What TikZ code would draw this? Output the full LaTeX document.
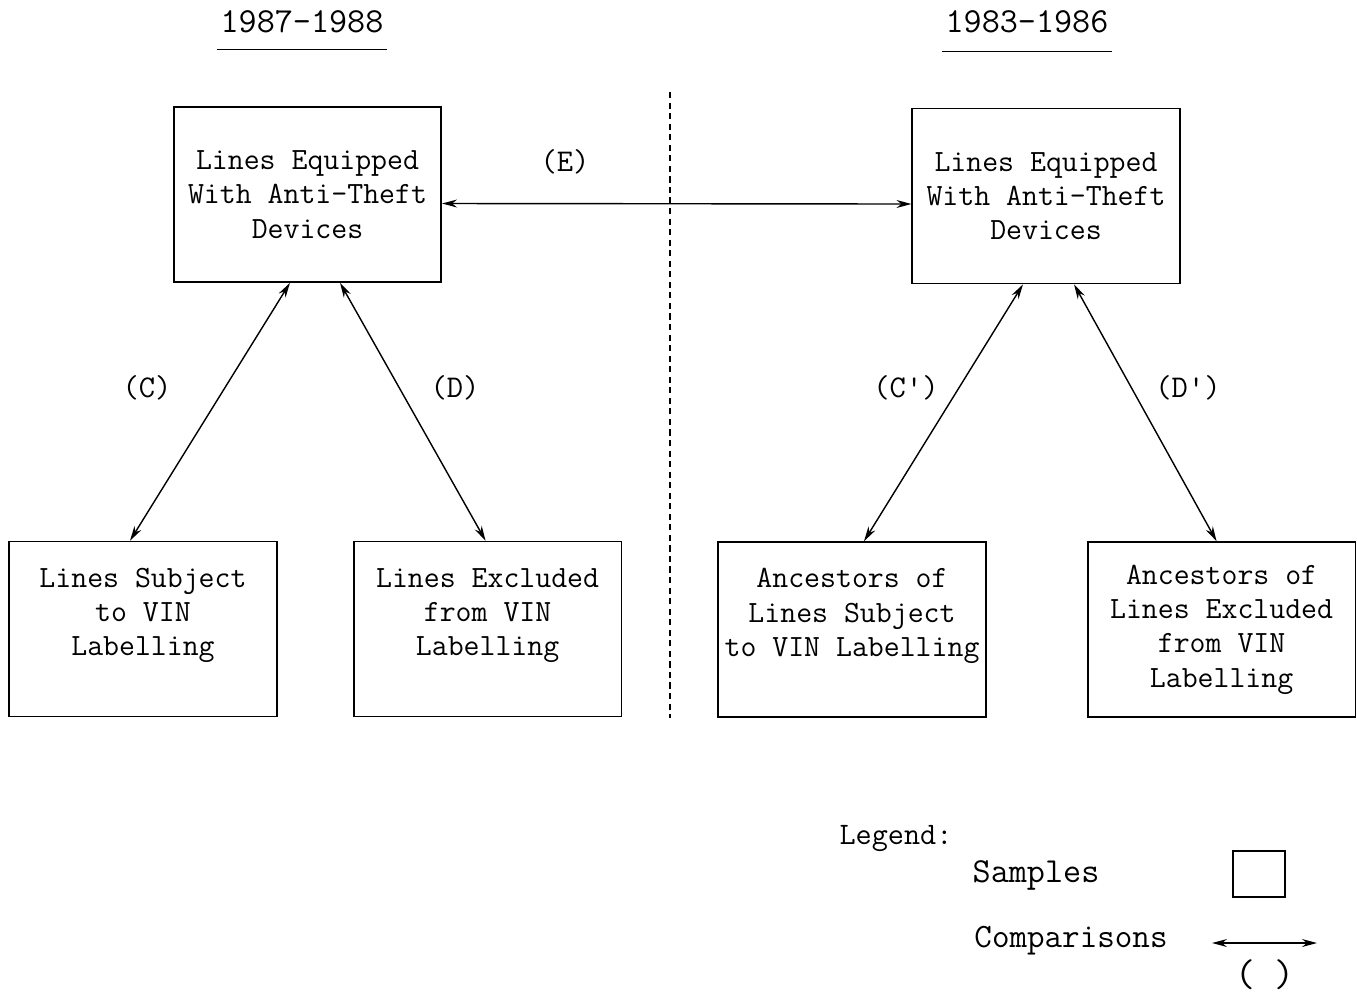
\documentclass[tikz,border=0pt]{standalone}
\usepackage{xcolor}
\usepackage{tikz}
\usetikzlibrary{arrows.meta, positioning}

\begin{document}
\begin{tikzpicture}[
    sample/.style={rectangle, draw, line width=0.9pt, minimum width=5.35cm, minimum height=3.5cm, align=center, inner xsep=1pt, font=\fontsize{17.6}{19.5}\selectfont\ttfamily},
    cmp/.style={{Stealth[length=8.5pt,width=4.5pt]}-{Stealth[length=8.5pt,width=4.5pt]}, line width=0.8pt},
    tag/.style={font=\fontsize{18}{20}\selectfont\ttfamily},
    period/.style={font=\fontsize{20}{22}\selectfont\ttfamily, inner xsep=2pt, inner ysep=0.32cm}
  ]
    \useasboundingbox (0,0) rectangle (27.14,-20.02);

    % Period headings
    \node (yr87) [period] at (6.04,-0.44) {1987\textendash1988};
    \node (yr83) [period] at (20.54,-0.44) {1983\textendash1986};
    \draw[line width=0.8pt] (yr87.south west) -- (yr87.south east);
    \draw[line width=0.8pt] ([yshift=-0.04cm]yr83.south west) -- ([yshift=-0.04cm]yr83.south east);

    % Samples
    \node (eq87) [sample] at (6.15,-3.89) {Lines Equipped\\With Anti\textendash Theft\\Devices};
    \node (eq83) [sample] at (20.92,-3.92) {Lines Equipped\\With Anti\textendash Theft\\Devices};
    \node (subj) [sample] at (2.86,-12.58) {Lines Subject\\to VIN\\Labelling\\\mbox{}};
    \node (excl) [sample, right=1.51cm of subj] {Lines Excluded\\from VIN\\Labelling\\\mbox{}};
    \node (ancsubj) [sample] at (17.04,-12.59) {Ancestors of\\Lines Subject\\to VIN Labelling\\\mbox{}};
    \node (ancexcl) [sample, right=2.01cm of ancsubj] {Ancestors of\\Lines Excluded\\from VIN\\Labelling};

    % Divider between periods
    \coordinate (divtop) at (13.4,-1.84);
    \coordinate (divbot) at (13.4,-14.36);
    \draw[line width=0.7pt, dash pattern=on 3.5pt off 2.5pt] (divtop) -- (divbot);

    % Comparisons
    \draw[cmp] ([yshift=-0.18cm]eq87.east) -- ([yshift=-0.16cm]eq83.west);
    \draw[cmp] ([xshift=-0.35cm]eq87.south) -- ([xshift=-0.26cm]subj.north);
    \draw[cmp] ([xshift=0.65cm]eq87.south) -- ([xshift=-0.04cm]excl.north);
    \draw[cmp] ([xshift=-0.46cm]eq83.south) -- ([xshift=0.24cm]ancsubj.north);
    \draw[cmp] ([xshift=0.56cm]eq83.south) -- ([xshift=-0.10cm]ancexcl.north);

    \node (labE) [tag] at (11.30,-3.24) {(E)};
    \node (labC) [tag] at (2.94,-7.76) {(C)};
    \node (labD) [tag] at (9.10,-7.76) {(D)};
    \node (labCp) [tag] at (18.12,-7.76) {(C')};
    \node (labDp) [tag] at (23.76,-7.76) {(D')};

    % Legend
    \node (legend) [font=\fontsize{17.8}{19}\selectfont\ttfamily] at (17.92,-16.78) {Legend:};
    \node (legsamp) [font=\fontsize{20}{22}\selectfont\ttfamily] at (20.72,-17.50) {Samples};
    \node (legbox) [rectangle, draw, line width=0.8pt, minimum width=1.04cm, minimum height=0.92cm] at (25.18,-17.48) {};
    \node (legcmp) [font=\fontsize{19.4}{21}\selectfont\ttfamily] at (21.42,-18.82) {Comparisons};
    \coordinate (cmpl) at (24.24,-18.86);
    \coordinate (cmpr) at (26.34,-18.86);
    \draw[cmp] (cmpl) -- (cmpr);
    \node (legpar) [font=\fontsize{22}{24}\selectfont\ttfamily] at (25.30,-19.50) {(\,\,\,)};
\end{tikzpicture}
\end{document}
